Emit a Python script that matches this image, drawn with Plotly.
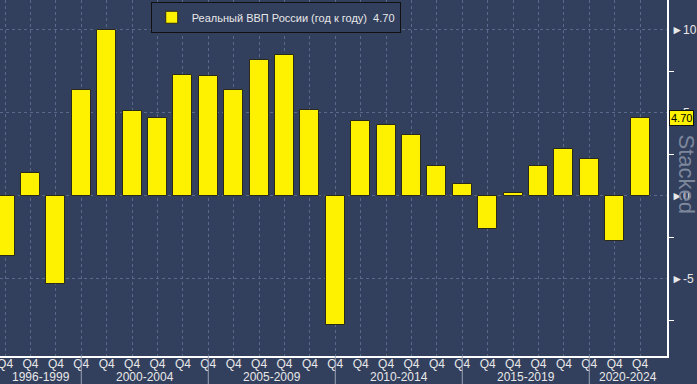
import plotly.graph_objects as go

years = list(range(1996, 2022))
gdp_yoy = [-3.6, 1.4, -5.3, 6.4, 10.0, 5.1, 4.7, 7.3, 7.2, 6.4, 8.2, 8.5, 5.2, -7.8,
           4.5, 4.3, 3.7, 1.8, 0.7, -2.0, 0.2, 1.8, 2.8, 2.2, -2.7, 4.7]
quarter_labels = ["Q4"] * len(years)
group_labels = ["1996-1999", "2000-2004", "2005-2009", "2010-2014", "2015-2019", "2020-2024"]
group_separators = [1999, 2004, 2009, 2014, 2019]
y_major = [-5, 0, 5, 10]
y_minor = [-7.5, -2.5, 2.5, 7.5]
series_name = "Реальный ВВП России (год к году)"
last_value = gdp_yoy[-1]

BG = "#323f5d"
YEL = "#fff200"
GRID = "#5a6a8c"
TXT = "#e8e8e8"
FONT = "Liberation Sans, Arial, sans-serif"

x_min, x_max = 1995.80, 2022.06
y_min, y_max = -9.64, 11.80

fig = go.Figure()
fig.add_trace(go.Bar(
    x=years, y=gdp_yoy, width=0.75,
    marker=dict(color=YEL, line=dict(color="#2a2a1a", width=1)),
    name=f"{series_name}  {last_value:.2f}",
    showlegend=True,
))

bounds = [x_min] + group_separators + [x_max]
shapes = []
annotations = []
for s in group_separators:
    shapes.append(dict(type="line", xref="x", yref="paper", x0=s, x1=s, y0=0, y1=-0.08,
                       line=dict(color="#9aa3b5", width=1)))
for i, lab in enumerate(group_labels):
    cx = (bounds[i] + bounds[i + 1]) / 2
    annotations.append(dict(xref="x", yref="paper", x=cx, y=-0.0595, yanchor="middle",
                            text=lab, showarrow=False, font=dict(color=TXT, size=12, family=FONT)))

annotations.append(dict(xref="paper", yref="y", x=1.0, y=last_value, xanchor="left", xshift=2,
                        text=f"{last_value:.2f}", showarrow=False, bgcolor=YEL,
                        bordercolor="#111111", borderwidth=1, borderpad=1,
                        font=dict(color="black", size=11, family=FONT)))
annotations.append(dict(xref="paper", yref="paper", x=1.0, y=0.511, xanchor="left", xshift=5,
                        text="Stacked", textangle=90, showarrow=False,
                        font=dict(color="#7d879c", size=22, family=FONT)))

fig.update_layout(
    width=697, height=384,
    margin=dict(l=0, r=30, t=0, b=28, autoexpand=False),
    paper_bgcolor=BG, plot_bgcolor=BG,
    font=dict(family=FONT, color=TXT, size=12),
    bargap=0,
    shapes=shapes,
    annotations=annotations,
    legend=dict(x=0.226, y=0.995, xanchor="left", yanchor="top",
                bgcolor=BG, bordercolor="#111111", borderwidth=1,
                font=dict(color=TXT, size=11, family=FONT),
                itemwidth=30, tracegroupgap=0),
    xaxis=dict(range=[x_min, x_max], tickmode="array", tickvals=years, ticktext=quarter_labels,
               showgrid=True, gridcolor=GRID, griddash="3px,3px", gridwidth=1,
               showline=True, linecolor="white", linewidth=1.5, zeroline=False, automargin=False,
               ticks="", tickfont=dict(color=TXT, size=12, family=FONT), ticklabelstandoff=-4,
               ticklabeloverflow="allow"),
    yaxis=dict(range=[y_min, y_max], side="right", tickmode="array", tickvals=y_major,
               ticktext=["►" + str(v) for v in y_major], automargin=False,
               showgrid=True, gridcolor=GRID, griddash="3px,3px", gridwidth=1,
               showline=True, linecolor="white", linewidth=1.5, zeroline=False,
               ticks="", tickfont=dict(color=TXT, size=12, family=FONT), ticklabelstandoff=0,
               minor=dict(tickvals=y_minor, ticks="outside", ticklen=5, tickcolor="white",
                          showgrid=False)),
)

fig.write_html("out.html", config={"displayModeBar": False},
               post_script="document.body.style.margin='0';document.body.style.padding='0';"
                           "document.body.style.background='" + BG + "';")
